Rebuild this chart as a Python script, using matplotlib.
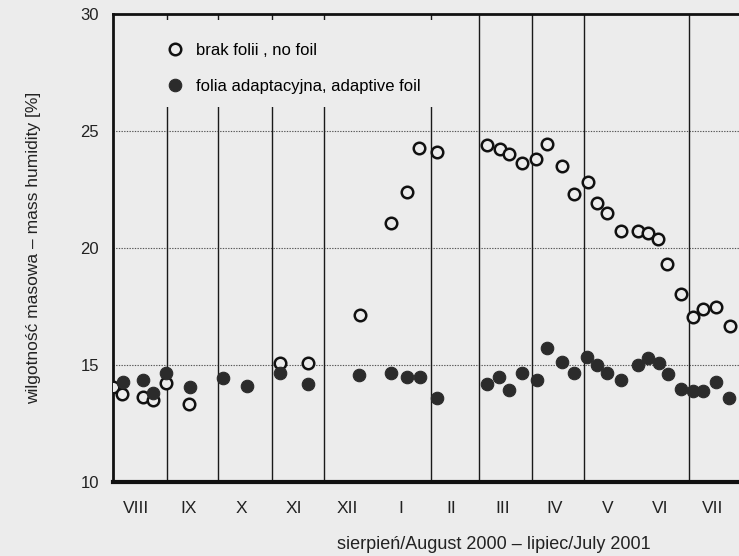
import matplotlib
matplotlib.use("Agg")
import matplotlib.pyplot as plt
from matplotlib.patches import Rectangle
import numpy as np

# ---- data (x = day counted from 1 Aug 2000) ----
month_names = ["VIII", "IX", "X", "XI", "XII", "I", "II", "III", "IV", "V", "VI", "VII"]
month_starts = [0, 31, 61, 92, 122, 153, 184, 212, 243, 273, 304, 334, 365]
divider_days = [31, 61, 92, 122, 184, 212, 243, 273, 334]

open_days = [0.2, 5.4, 17.6, 23.3, 30.7, 44.2, 96.8, 113.2, 143.1, 160.9, 170.2, 177.5,
             187.9, 216.9, 224.2, 229.6, 237.0, 245.1, 251.3, 260.0, 267.1, 275.0, 280.6,
             286.0, 294.1, 304.3, 310.1, 315.9, 321.1, 329.1, 335.9, 342.0, 349.4, 357.5]
open_vals = [14.07, 13.76, 13.62, 13.50, 14.24, 13.33, 15.07, 15.07, 17.14, 21.08, 22.38, 24.29,
             24.12, 24.40, 24.22, 24.02, 23.62, 23.79, 24.44, 23.52, 22.29, 22.83, 21.91,
             21.48, 20.74, 20.74, 20.63, 20.38, 19.32, 18.03, 17.06, 17.38, 17.47, 16.68]

fill_days = [5.6, 17.6, 23.3, 30.7, 44.6, 63.9, 77.8, 96.8, 112.8, 142.7, 161.1, 170.2,
             177.9, 187.5, 216.9, 223.8, 229.4, 237.1, 245.5, 251.3, 260.0, 267.3, 274.8,
             280.6, 286.0, 294.1, 304.0, 310.1, 316.5, 321.4, 328.9, 335.9, 342.0, 349.2, 357.1]
fill_vals = [14.26, 14.36, 13.82, 14.65, 14.07, 14.46, 14.10, 14.65, 14.19, 14.57, 14.65, 14.47,
             14.49, 13.58, 14.17, 14.50, 13.93, 14.65, 14.36, 15.74, 15.14, 14.67, 15.33,
             15.00, 14.67, 14.36, 15.00, 15.29, 15.10, 14.62, 13.96, 13.89, 13.90, 14.29, 13.58]

y_ticks = [10, 15, 20, 25, 30]
grid_y = [15, 20, 25]

label_open = "brak folii , no foil"
label_fill = "folia adaptacyjna, adaptive foil"
ylabel = "wilgotność masowa – mass humidity [%]"
xlabel = "sierpień/August 2000 – lipiec/July 2001"

# ---- style ----
BG = "#ececec"
FONT = ["Liberation Sans", "DejaVu Sans"]
NARROW = ["Liberation Sans Narrow", "Liberation Sans", "DejaVu Sans"]
plt.rcParams["font.family"] = FONT

fig = plt.figure(figsize=(7.39, 5.56), dpi=100, facecolor=BG)
ax = fig.add_axes([113/739, 1-482/556, 630/739, 468/556], facecolor=BG)

ax.set_xlim(month_starts[0], month_starts[-1])
ax.set_ylim(10, 30)

for yv in grid_y:
    ax.axhline(yv, color="#555555", lw=0.8, ls=(0, (1.2, 1.2)), zorder=1)
for d in divider_days:
    ax.axvline(d, color="#1a1a1a", lw=1.0, zorder=1)

# legend backdrop covering the lines in the top-left area
ax.add_patch(Rectangle((0, (482-107)/468), (450-113)/630, (107-20)/468,
                       transform=ax.transAxes, facecolor=BG, edgecolor="none", zorder=1.5))

ax.plot(open_days, open_vals, ls="none", marker="o", ms=8.3, mfc=BG, mec="#111111",
        mew=1.8, zorder=3, label=label_open)
ax.plot(fill_days, fill_vals, ls="none", marker="o", ms=9.0, mfc="#2b2b2b", mec="#2b2b2b",
        mew=0.8, zorder=4, label=label_fill)

leg = ax.legend(loc="upper left", bbox_to_anchor=((160-113)/630, (482-36)/468),
                frameon=False, handletextpad=0.75, labelspacing=1.25, handlelength=1.0,
                borderaxespad=0, prop={"family": NARROW, "size": 12})

# ticks
centers = [(a + b) / 2 - 2 for a, b in zip(month_starts[:-1], month_starts[1:])]
ax.set_xticks(centers)
ax.set_xticklabels(month_names, fontsize=12.5, color="#222222")
ax.tick_params(axis="x", length=0, pad=14)
ax.set_yticks(y_ticks)
ax.set_yticklabels([str(v) for v in y_ticks], fontsize=12, color="#222222")
ax.tick_params(axis="y", length=0, pad=10)

ax.set_xlabel(xlabel, fontsize=13, color="#222222")
ax.xaxis.set_label_coords((494-113)/630, -0.115)
ax.set_ylabel(ylabel, fontsize=12.5, color="#222222")
ax.yaxis.set_label_coords(-0.115, 0.5)

for s in ["top", "left"]:
    ax.spines[s].set_linewidth(2.0)
    ax.spines[s].set_color("#111111")
ax.spines["bottom"].set_linewidth(3.0)
ax.spines["bottom"].set_color("#111111")
ax.spines["right"].set_visible(False)

fig.savefig("out.png", dpi=100, facecolor=BG)
